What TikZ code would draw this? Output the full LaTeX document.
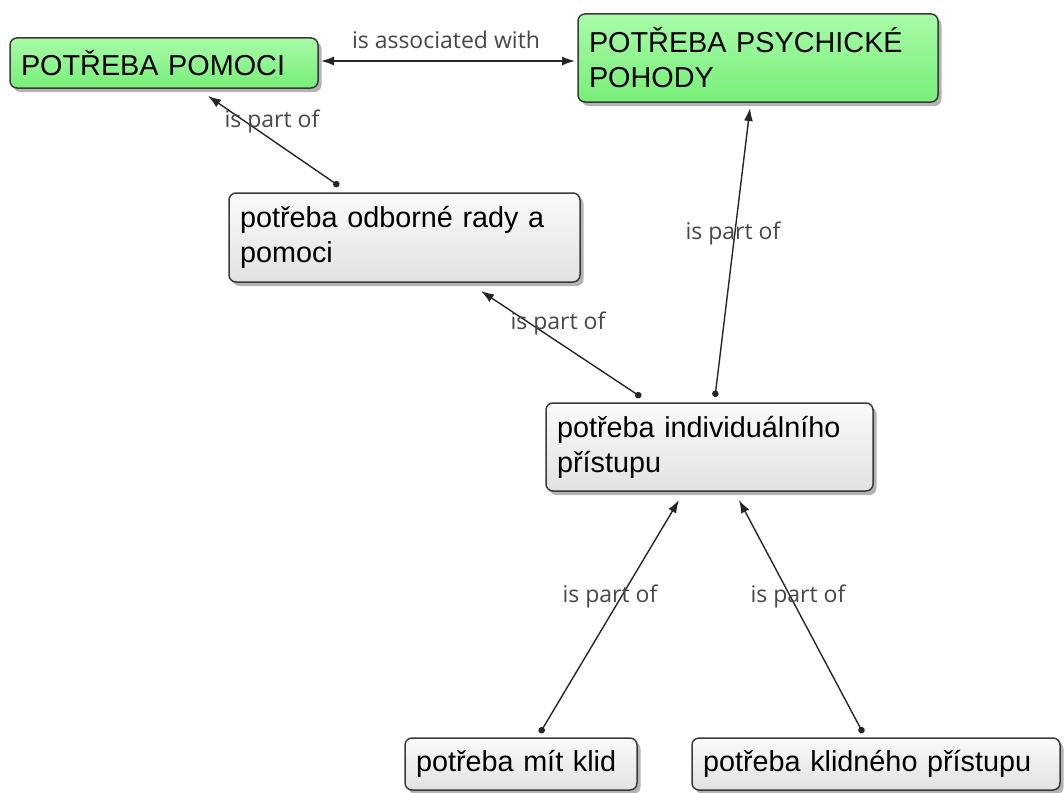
\documentclass[tikz,border=0pt]{standalone}
\usepackage{fontspec}
\setmainfont{Liberation Sans}
\newfontfamily\linkfont{Open Sans}
\usetikzlibrary{arrows.meta,calc,shadows}
\definecolor{greentop}{HTML}{A8FBA8}
\definecolor{greenbot}{HTML}{78EE78}
\definecolor{greytop}{HTML}{FAFAFA}
\definecolor{greybot}{HTML}{E2E2E2}
\definecolor{boxline}{HTML}{3A3A3A}
\begin{document}
\begin{tikzpicture}[y=1pt, x=1pt, yscale=-1, inner sep=0pt, outer sep=0pt,
  concept/.style={draw=boxline, line width=1.5pt, rounded corners=7pt, anchor=north west,
    align=left, inner xsep=10pt, inner ysep=4pt, font=\fontsize{28.8}{35}\selectfont,
    drop shadow={shadow xshift=3.5pt, shadow yshift=-4pt, opacity=0.6}},
  greenbox/.style={concept, top color=greentop, bottom color=greenbot},
  greybox/.style={concept, top color=greytop, bottom color=greybot},
  link/.style={draw=black!85, line width=1.4pt, {Circle[length=6.5pt]}-{Latex[length=13pt,width=9pt]}},
  linklabel/.style={font=\linkfont\fontsize{23}{26}\selectfont, text=black!72}]
\useasboundingbox (0,0) rectangle (1064,792);
\node (pomoc) at (10,38) [greenbox, text width=286pt, minimum width=308pt, minimum height=50pt] {POTŘEBA POMOCI};
\node (pohoda) at (578,14) [greenbox, text width=338pt, minimum width=360pt, minimum height=88pt] {POTŘEBA PSYCHICKÉ\\POHODY};
\node (rada) at (229,193) [greybox, text width=329pt, minimum width=351pt, minimum height=89pt] {potřeba odborné rady a\\pomoci};
\node (pristup) at (546,403) [greybox, text width=305pt, minimum width=327pt, minimum height=88pt] {potřeba individuálního\\přístupu};
\node (klid) at (405,738) [greybox, text width=210pt, minimum width=232pt, minimum height=52pt] {potřeba mít klid};
\node (klidny) at (692,738) [greybox, text width=346pt, minimum width=368pt, minimum height=52pt] {potřeba klidného přístupu};
\path[draw=black!85, line width=1.4pt, {Latex[length=13pt,width=9pt]}-{Latex[length=13pt,width=9pt]}]
  ($(pomoc.north east)+(3,23)$) -- ($(pohoda.north west)+(-3,47)$);
\node (assoc) at (446,40) [linklabel] {is associated with};
\path[link] ($(rada.north west)+(110,-7)$) -- ($(pomoc.south west)+(198,8)$);
\node (part1) at (272,121) [linklabel] {is part of};
\path[link] ($(pristup.north west)+(95,-6)$) -- ($(rada.south west)+(252,9)$);
\node (part2) at (558,323) [linklabel] {is part of};
\path[link] ($(pristup.north west)+(169,-6)$) -- ($(pohoda.south west)+(172,6)$);
\node (part3) at (733,233) [linklabel] {is part of};
\path[link] ($(klid.north west)+(135,-5)$) -- ($(pristup.south west)+(133,9)$);
\node (part4) at (610,596) [linklabel] {is part of};
\path[link] ($(klidny.north west)+(171,-5)$) -- ($(pristup.south west)+(193,9)$);
\node (part5) at (798,596) [linklabel] {is part of};
\end{tikzpicture}
\end{document}
